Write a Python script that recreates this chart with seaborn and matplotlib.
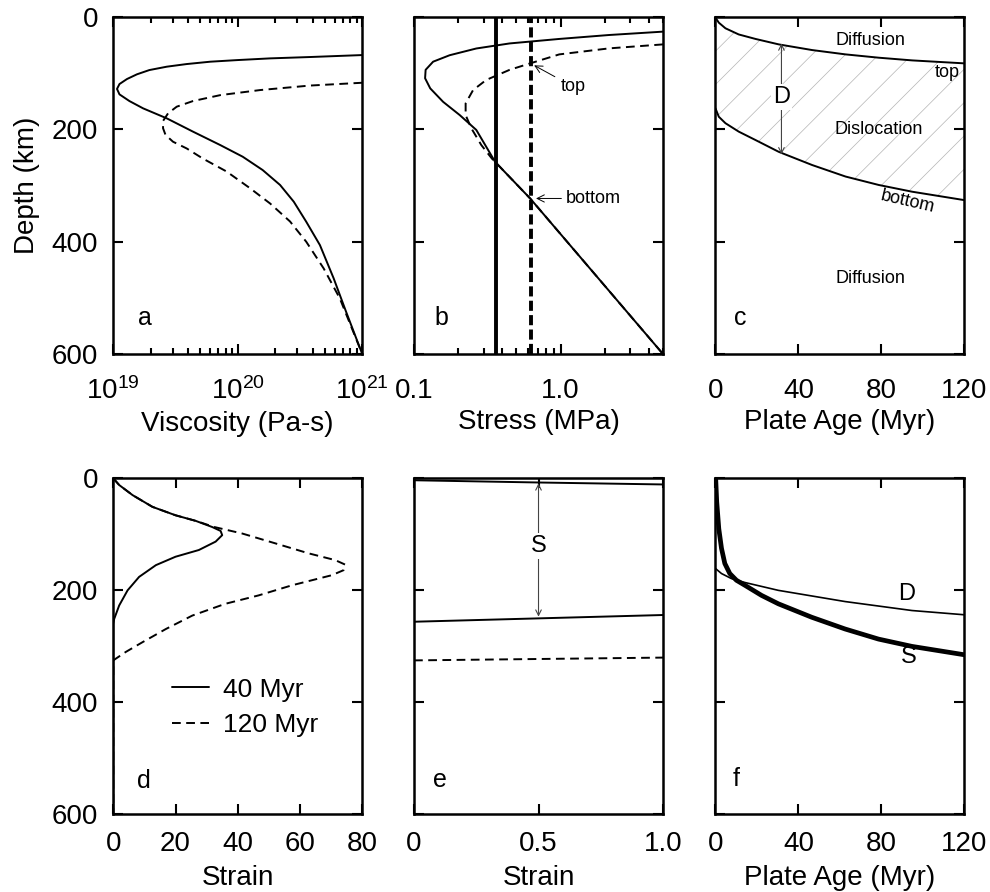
import matplotlib
matplotlib.use("Agg")
import matplotlib.pyplot as plt
import seaborn as sns
from matplotlib.ticker import NullFormatter, FixedLocator

# ---- panel a: viscosity profiles (log10 Pa-s) ----
depth_a40 = [67.7, 71.2, 73.6, 76.6, 79.5, 83.7, 88.4, 94.4, 102, 110.4, 119.3, 128, 137.7, 149.6,
             162.6, 180.4, 204, 228, 248.7, 272.4, 299, 328.8, 364.4, 406, 465, 524.6, 600]
logvisc_a40 = [21.0, 20.58, 20.26, 20.0, 19.78, 19.59, 19.43, 19.29, 19.19, 19.11, 19.05, 19.03,
               19.05, 19.13, 19.24, 19.43, 19.64, 19.86, 20.04, 20.20, 20.34, 20.45, 20.55,
               20.66, 20.77, 20.87, 21.0]
depth_a120 = [117, 122, 130, 139, 149.6, 159.6, 171.5, 185, 198, 210, 222, 234, 252, 275,
              305, 332, 364, 400, 447.5, 501, 600]
logvisc_a120 = [21.0, 20.58, 20.18, 19.86, 19.64, 19.51, 19.44, 19.40, 19.40, 19.42, 19.48,
                19.59, 19.72, 19.91, 20.10, 20.26, 20.42, 20.55, 20.69, 20.82, 21.0]

# ---- panel b: stress profiles (MPa) ----
depth_b40 = [26, 32, 39, 47, 56, 68, 79.5, 94, 109, 127, 151, 174.5, 201, 258, 323, 600]
stress_b40 = [5.0, 2.14, 0.98, 0.449, 0.266, 0.175, 0.135, 0.120, 0.119, 0.129, 0.158, 0.205,
              0.266, 0.358, 0.62, 5.0]
depth_b120 = [48.7, 55.8, 66.5, 82.5, 94, 112, 130, 153.7, 174.5, 198, 228, 252, 258, 323, 600]
stress_b120 = [5.0, 2.14, 0.98, 0.62, 0.449, 0.311, 0.253, 0.225, 0.225, 0.246, 0.288, 0.34,
               0.358, 0.62, 5.0]
stress_ref40 = 0.36
stress_ref120 = 0.63

# ---- panel c: dislocation creep layer ----
age_c = [0, 1.6, 4.8, 11.2, 19.3, 30.5, 46.6, 62.7, 78.7, 94.8, 120]
top_c = [1, 10, 20, 31, 39, 48.7, 58.8, 66.5, 72.4, 77.2, 82.5]
bottom_c = [162.6, 177.5, 189, 204, 219, 240, 263.5, 284, 299, 311, 326]

# ---- panel d: strain profiles ----
depth_d40 = [0, 12, 30, 51, 66, 76, 87, 94, 101.5, 113, 128, 140, 155, 176, 200, 227, 251, 260, 600]
strain_d40 = [0, 1.9, 6.2, 12.6, 20, 26.5, 31.8, 34.5, 35, 32.9, 27.5, 20, 13.7, 8.3, 4.6, 1.9, 0.3, 0, 0]
depth_d120 = [0, 12, 30, 51, 66, 76, 87, 98.5, 116, 134, 146, 154, 164, 173, 191, 209, 224, 245,
              269, 292.5, 310, 325, 600]
strain_d120 = [0, 1.9, 6.2, 12.6, 20, 26.5, 32.5, 41.4, 52, 62.8, 71.3, 74.5, 74, 70.2, 57.4,
               46.7, 36, 25.4, 16.9, 9.4, 4, 0, 0]

# ---- panel e: normalized strain contours ----
strain_e = [0, 0.5, 1.0]
depth_e_top = [3.5, 7.5, 11]
depth_e_bot40 = [256, 250, 244]
depth_e_bot120 = [325, 322.5, 320]

# ---- panel f: layer thickness vs age ----
age_fD = [0, 2.9, 7.7, 14.2, 30.3, 46.4, 62.5, 78.6, 94.7, 120]
depth_fD = [161, 170, 179, 186, 200, 210, 220, 228, 236, 243.6]
age_fS = [0.1, 0.6, 1.6, 2.9, 4.5, 6.9, 10.1, 14.2, 22.2, 30.3, 46.4, 62.5, 78.6, 94.7, 120]
depth_fS = [0, 42, 90, 125, 152, 170, 182, 191, 209, 224, 248, 269, 287, 300, 315]

sns.set_style("ticks")
plt.rcParams["font.family"] = ["Liberation Sans", "DejaVu Sans"]
plt.rcParams["mathtext.fontset"] = "custom"
plt.rcParams["mathtext.rm"] = "Liberation Sans"
plt.rcParams["hatch.linewidth"] = 0.5
plt.rcParams["text.color"] = "black"
plt.rcParams["axes.labelcolor"] = "black"

TICK_FS = 20
LAB_FS = 20
LW = 1.4
DASH = (4.5, 2.8)

fig = plt.figure(figsize=(9.9, 8.92), dpi=100)
lefts = [0.1144, 0.4182, 0.7227]
W = 0.2515
top_row = [fig.add_axes([l, 0.6031, W, 0.3778]) for l in lefts]
bot_row = [fig.add_axes([l, 0.0869, W, 0.3769]) for l in lefts]
ax_a, ax_b, ax_c = top_row
ax_d, ax_e, ax_f = bot_row


def style(ax, pad):
    ax.set_ylim(600, 0)
    ax.set_yticks([0, 200, 400, 600])
    for s in ax.spines.values():
        s.set_linewidth(1.8)
        s.set_color("black")
    ax.tick_params(which="both", direction="in", top=True, right=True,
                   width=1.5, colors="black", labelsize=TICK_FS)
    ax.tick_params(which="major", length=7)
    ax.tick_params(which="minor", length=4)
    ax.tick_params(axis="x", pad=pad)
    ax.tick_params(axis="y", pad=11)
    ax.set_ylabel("")


def letter(ax, x, y, s):
    ax.text(x, y, s, fontsize=18, ha="center", va="center")


# a
sns.lineplot(x=[10 ** v for v in logvisc_a40], y=depth_a40, sort=False, estimator=None,
             ax=ax_a, color="black", lw=LW)
sns.lineplot(x=[10 ** v for v in logvisc_a120], y=depth_a120, sort=False, estimator=None,
             ax=ax_a, color="black", lw=LW, linestyle=(0, DASH))
ax_a.set_xscale("log")
ax_a.set_xlim(1e19, 1e21)
ax_a.xaxis.set_minor_formatter(NullFormatter())
style(ax_a, 17)
ax_a.set_xlabel("Viscosity (Pa-s)", fontsize=LAB_FS, labelpad=4)
ax_a.set_ylabel("Depth (km)", fontsize=LAB_FS, labelpad=8)
letter(ax_a, 1.8e19, 535, "a")

# b
sns.lineplot(x=stress_b40, y=depth_b40, sort=False, estimator=None, ax=ax_b, color="black", lw=LW)
sns.lineplot(x=stress_b120, y=depth_b120, sort=False, estimator=None, ax=ax_b, color="black",
             lw=LW, linestyle=(0, DASH))
ax_b.axvline(stress_ref40, color="black", lw=2.8)
ax_b.axvline(stress_ref120, color="black", lw=2.8, linestyle=(0, (2.6, 1.1)))
ax_b.set_xscale("log")
ax_b.set_xlim(0.1, 5)
ax_b.xaxis.set_major_locator(FixedLocator([0.1, 1.0]))
ax_b.set_xticklabels(["0.1", "1.0"])
ax_b.xaxis.set_minor_formatter(NullFormatter())
style(ax_b, 17)
ax_b.set_yticklabels([])
ax_b.set_xlabel("Stress (MPa)", fontsize=LAB_FS, labelpad=4)
ax_b.annotate("top", xy=(0.66, 86), xytext=(1.0, 124), fontsize=13, ha="left", va="center",
              arrowprops=dict(arrowstyle="->", lw=0.7, color="black", shrinkA=2, shrinkB=0))
ax_b.annotate("bottom", xy=(0.68, 323), xytext=(1.09, 323), fontsize=13, ha="left", va="center",
              arrowprops=dict(arrowstyle="->", lw=0.7, color="black", shrinkA=1, shrinkB=0))
letter(ax_b, 0.1527, 535, "b")

# c
ax_c.fill_between(age_c, top_c, bottom_c, facecolor="none", edgecolor="#b4b4b4", hatch="/", lw=0)
sns.lineplot(x=age_c, y=top_c, sort=False, estimator=None, ax=ax_c, color="black", lw=LW)
sns.lineplot(x=age_c, y=bottom_c, sort=False, estimator=None, ax=ax_c, color="black", lw=LW)
ax_c.set_xlim(0, 120)
ax_c.set_xticks([0, 40, 80, 120])
style(ax_c, 17)
ax_c.set_yticklabels([])
ax_c.set_xlabel("Plate Age (Myr)", fontsize=LAB_FS, labelpad=4)
ax_c.annotate("", xy=(31.8, 47), xytext=(31.8, 244.5),
              arrowprops=dict(arrowstyle="<->", lw=0.8, color="#444444", shrinkA=0, shrinkB=0))
ax_c.text(31.8, 142, "D", fontsize=17, ha="center", va="center",
          bbox=dict(facecolor="white", edgecolor="none", pad=1.5))
ax_c.text(74.7, 41, "Diffusion", fontsize=13, ha="center", va="center")
ax_c.text(111.6, 98.5, "top", fontsize=13, ha="center", va="center")
ax_c.text(78.7, 201, "Dislocation", fontsize=13, ha="center", va="center")
ax_c.text(92.4, 329, "bottom", fontsize=13, ha="center", va="center", rotation=-13)
ax_c.text(74.7, 465, "Diffusion", fontsize=13, ha="center", va="center")
letter(ax_c, 12, 535, "c")

# d
sns.lineplot(x=strain_d40, y=depth_d40, sort=False, estimator=None, ax=ax_d, color="black",
             lw=LW, label="40 Myr")
sns.lineplot(x=strain_d120, y=depth_d120, sort=False, estimator=None, ax=ax_d, color="black",
             lw=LW, linestyle=(0, DASH), label="120 Myr")
ax_d.set_xlim(0, 80)
ax_d.set_xticks([0, 20, 40, 60, 80])
style(ax_d, 12)
ax_d.set_xlabel("Strain", fontsize=LAB_FS, labelpad=6)
leg = ax_d.legend(loc="upper left", bbox_to_anchor=(0.142, 0.478), frameon=False, fontsize=19,
                  handlelength=1.38, handletextpad=0.55, labelspacing=0.45)
for t in leg.get_texts():
    t.set_color("black")
letter(ax_d, 9.9, 540, "d")

# e
sns.lineplot(x=strain_e, y=depth_e_top, sort=False, estimator=None, ax=ax_e, color="black", lw=LW)
sns.lineplot(x=strain_e, y=depth_e_bot40, sort=False, estimator=None, ax=ax_e, color="black", lw=LW)
sns.lineplot(x=strain_e, y=depth_e_bot120, sort=False, estimator=None, ax=ax_e, color="black",
             lw=LW, linestyle=(0, DASH))
ax_e.set_xlim(0, 1)
ax_e.set_xticks([0, 0.5, 1.0])
ax_e.set_xticklabels(["0", "0.5", "1.0"])
style(ax_e, 12)
ax_e.set_yticklabels([])
ax_e.set_xlabel("Strain", fontsize=LAB_FS, labelpad=6)
ax_e.annotate("", xy=(0.5, 9), xytext=(0.5, 247),
              arrowprops=dict(arrowstyle="<->", lw=0.8, color="#444444", shrinkA=0, shrinkB=0))
ax_e.text(0.5, 121, "S", fontsize=17, ha="center", va="center",
          bbox=dict(facecolor="white", edgecolor="none", pad=1.5))
letter(ax_e, 0.104, 539, "e")

# f
sns.lineplot(x=age_fD, y=depth_fD, sort=False, estimator=None, ax=ax_f, color="black", lw=1.2)
sns.lineplot(x=age_fS, y=depth_fS, sort=False, estimator=None, ax=ax_f, color="black", lw=3.4)
ax_f.set_xlim(0, 120)
ax_f.set_xticks([0, 40, 80, 120])
style(ax_f, 12)
ax_f.set_yticklabels([])
ax_f.set_xlabel("Plate Age (Myr)", fontsize=LAB_FS, labelpad=6)
ax_f.text(92.3, 206, "D", fontsize=17, ha="center", va="center")
ax_f.text(93, 319, "S", fontsize=17, ha="center", va="center")
letter(ax_f, 10, 537, "f")

fig.savefig("out.png", dpi=100)
